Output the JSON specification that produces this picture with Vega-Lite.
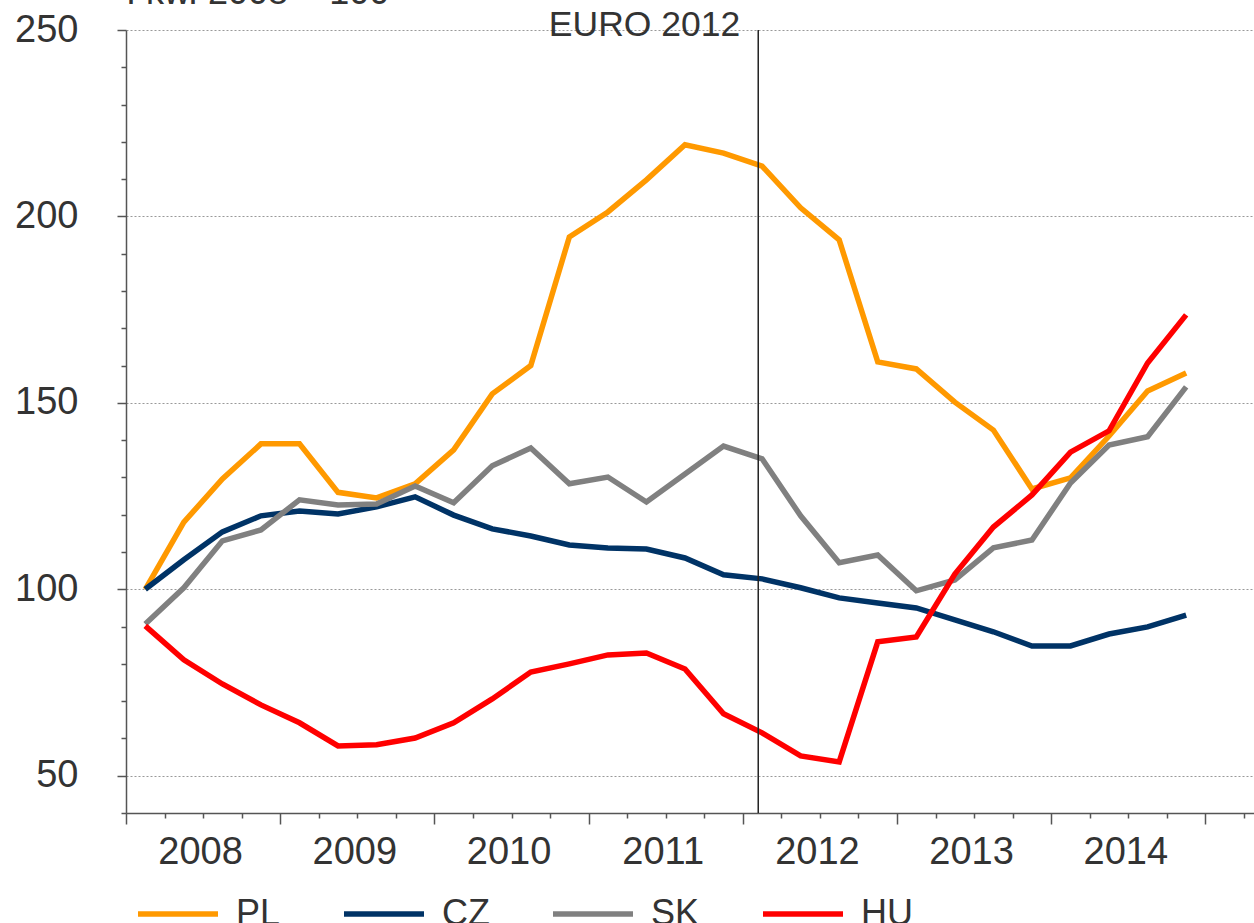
{
  "$schema": "https://vega.github.io/schema/vega-lite/v6.json",
  "width": 1128,
  "height": 783,
  "autosize": {"type": "none"},
  "padding": {"left": 126, "top": 30, "right": 0, "bottom": 110},
  "config": {
    "font": "Liberation Sans",
    "view": {"stroke": null},
    "axis": {"labelFont": "Liberation Sans", "labelColor": "#333333", "labelFontSize": 38, "domainColor": "#555555", "domainWidth": 1.5, "tickColor": "#555555", "tickWidth": 1.5, "title": null}
  },
  "datasets": {
    "series": [
      {"t": 2008.125, "c": "PL", "v": 100}, {"t": 2008.375, "c": "PL", "v": 118}, {"t": 2008.625, "c": "PL", "v": 129.6}, {"t": 2008.875, "c": "PL", "v": 139},
      {"t": 2009.125, "c": "PL", "v": 139}, {"t": 2009.375, "c": "PL", "v": 126}, {"t": 2009.625, "c": "PL", "v": 124.5}, {"t": 2009.875, "c": "PL", "v": 128.3},
      {"t": 2010.125, "c": "PL", "v": 137.4}, {"t": 2010.375, "c": "PL", "v": 152.4}, {"t": 2010.625, "c": "PL", "v": 160}, {"t": 2010.875, "c": "PL", "v": 194.5},
      {"t": 2011.125, "c": "PL", "v": 201.2}, {"t": 2011.375, "c": "PL", "v": 209.8}, {"t": 2011.625, "c": "PL", "v": 219.2}, {"t": 2011.875, "c": "PL", "v": 217},
      {"t": 2012.125, "c": "PL", "v": 213.5}, {"t": 2012.375, "c": "PL", "v": 202.3}, {"t": 2012.625, "c": "PL", "v": 193.7}, {"t": 2012.875, "c": "PL", "v": 161},
      {"t": 2013.125, "c": "PL", "v": 159.1}, {"t": 2013.375, "c": "PL", "v": 150.2}, {"t": 2013.625, "c": "PL", "v": 142.7}, {"t": 2013.875, "c": "PL", "v": 126.9},
      {"t": 2014.125, "c": "PL", "v": 129.9}, {"t": 2014.375, "c": "PL", "v": 141.1}, {"t": 2014.625, "c": "PL", "v": 153.2}, {"t": 2014.875, "c": "PL", "v": 158},
      {"t": 2008.125, "c": "CZ", "v": 100}, {"t": 2008.375, "c": "CZ", "v": 107.9}, {"t": 2008.625, "c": "CZ", "v": 115.4}, {"t": 2008.875, "c": "CZ", "v": 119.7},
      {"t": 2009.125, "c": "CZ", "v": 121}, {"t": 2009.375, "c": "CZ", "v": 120.2}, {"t": 2009.625, "c": "CZ", "v": 122.1}, {"t": 2009.875, "c": "CZ", "v": 124.8},
      {"t": 2010.125, "c": "CZ", "v": 119.9}, {"t": 2010.375, "c": "CZ", "v": 116.2}, {"t": 2010.625, "c": "CZ", "v": 114.3}, {"t": 2010.875, "c": "CZ", "v": 111.9},
      {"t": 2011.125, "c": "CZ", "v": 111.1}, {"t": 2011.375, "c": "CZ", "v": 110.8}, {"t": 2011.625, "c": "CZ", "v": 108.4}, {"t": 2011.875, "c": "CZ", "v": 103.9},
      {"t": 2012.125, "c": "CZ", "v": 102.8}, {"t": 2012.375, "c": "CZ", "v": 100.4}, {"t": 2012.625, "c": "CZ", "v": 97.7}, {"t": 2012.875, "c": "CZ", "v": 96.3},
      {"t": 2013.125, "c": "CZ", "v": 95}, {"t": 2013.375, "c": "CZ", "v": 91.8}, {"t": 2013.625, "c": "CZ", "v": 88.6}, {"t": 2013.875, "c": "CZ", "v": 84.8},
      {"t": 2014.125, "c": "CZ", "v": 84.8}, {"t": 2014.375, "c": "CZ", "v": 88}, {"t": 2014.625, "c": "CZ", "v": 89.9}, {"t": 2014.875, "c": "CZ", "v": 93.1},
      {"t": 2008.125, "c": "SK", "v": 90.7}, {"t": 2008.375, "c": "SK", "v": 100.4}, {"t": 2008.625, "c": "SK", "v": 113}, {"t": 2008.875, "c": "SK", "v": 115.9},
      {"t": 2009.125, "c": "SK", "v": 124}, {"t": 2009.375, "c": "SK", "v": 122.6}, {"t": 2009.625, "c": "SK", "v": 122.9}, {"t": 2009.875, "c": "SK", "v": 127.7},
      {"t": 2010.125, "c": "SK", "v": 123.2}, {"t": 2010.375, "c": "SK", "v": 133.1}, {"t": 2010.625, "c": "SK", "v": 137.9}, {"t": 2010.875, "c": "SK", "v": 128.3},
      {"t": 2011.125, "c": "SK", "v": 130.1}, {"t": 2011.375, "c": "SK", "v": 123.4}, {"t": 2011.625, "c": "SK", "v": 130.9}, {"t": 2011.875, "c": "SK", "v": 138.4},
      {"t": 2012.125, "c": "SK", "v": 135}, {"t": 2012.375, "c": "SK", "v": 119.7}, {"t": 2012.625, "c": "SK", "v": 107.1}, {"t": 2012.875, "c": "SK", "v": 109.2},
      {"t": 2013.125, "c": "SK", "v": 99.6}, {"t": 2013.375, "c": "SK", "v": 102.5}, {"t": 2013.625, "c": "SK", "v": 111.1}, {"t": 2013.875, "c": "SK", "v": 113.2},
      {"t": 2014.125, "c": "SK", "v": 128.5}, {"t": 2014.375, "c": "SK", "v": 138.7}, {"t": 2014.625, "c": "SK", "v": 140.9}, {"t": 2014.875, "c": "SK", "v": 154.3},
      {"t": 2008.125, "c": "HU", "v": 90.2}, {"t": 2008.375, "c": "HU", "v": 81.1}, {"t": 2008.625, "c": "HU", "v": 74.6}, {"t": 2008.875, "c": "HU", "v": 69},
      {"t": 2009.125, "c": "HU", "v": 64.2}, {"t": 2009.375, "c": "HU", "v": 58}, {"t": 2009.625, "c": "HU", "v": 58.3}, {"t": 2009.875, "c": "HU", "v": 60.1},
      {"t": 2010.125, "c": "HU", "v": 64.2}, {"t": 2010.375, "c": "HU", "v": 70.6}, {"t": 2010.625, "c": "HU", "v": 77.8}, {"t": 2010.875, "c": "HU", "v": 80},
      {"t": 2011.125, "c": "HU", "v": 82.4}, {"t": 2011.375, "c": "HU", "v": 82.9}, {"t": 2011.625, "c": "HU", "v": 78.6}, {"t": 2011.875, "c": "HU", "v": 66.6},
      {"t": 2012.125, "c": "HU", "v": 61.5}, {"t": 2012.375, "c": "HU", "v": 55.3}, {"t": 2012.625, "c": "HU", "v": 53.7}, {"t": 2012.875, "c": "HU", "v": 85.9},
      {"t": 2013.125, "c": "HU", "v": 87.2}, {"t": 2013.375, "c": "HU", "v": 104.1}, {"t": 2013.625, "c": "HU", "v": 116.7}, {"t": 2013.875, "c": "HU", "v": 125.3},
      {"t": 2014.125, "c": "HU", "v": 136.8}, {"t": 2014.375, "c": "HU", "v": 142.5}, {"t": 2014.625, "c": "HU", "v": 160.7}, {"t": 2014.875, "c": "HU", "v": 173.6}
    ],
    "marker": [{"t": 2012.1, "v": 250, "label": "EURO 2012"}],
    "note": [{"t": 2008, "v": 250, "label": "I kw. 2008 = 100"}]
  },
  "layer": [
    {
      "data": {"name": "series"},
      "mark": {"type": "line", "strokeJoin": "miter", "clip": false},
      "encoding": {
        "x": {
          "field": "t", "type": "quantitative",
          "scale": {"domain": [2008, 2015.315], "nice": false, "zero": false},
          "axis": {
            "values": [2008, 2008.25, 2008.5, 2008.75, 2009, 2009.25, 2009.5, 2009.75, 2010, 2010.25, 2010.5, 2010.75, 2011, 2011.25, 2011.5, 2011.75, 2012, 2012.25, 2012.5, 2012.75, 2013, 2013.25, 2013.5, 2013.75, 2014, 2014.25, 2014.5, 2014.75, 2015, 2015.25],
            "tickCount": 200,
            "labelExpr": "datum.value % 1 == 0.5 ? '' + floor(datum.value) : ''",
            "labelOverlap": false,
            "labelFlush": false,
            "grid": false,
            "tickSize": {"condition": {"test": "datum.value % 1 == 0", "value": 11}, "value": 5},
            "labelPadding": 15,
            "labelOffset": -3
          }
        },
        "y": {
          "field": "v", "type": "quantitative",
          "scale": {"domain": [40, 250], "nice": false, "zero": false},
          "axis": {
            "values": [40, 50, 60, 70, 80, 90, 100, 110, 120, 130, 140, 150, 160, 170, 180, 190, 200, 210, 220, 230, 240, 250],
            "tickCount": 200,
            "labelExpr": "datum.value % 50 == 0 ? '' + datum.value : ''",
            "labelOverlap": false,
            "labelFlush": false,
            "grid": true,
            "gridColor": "#999999",
            "gridDash": [2, 2],
            "gridWidth": 1,
            "gridOpacity": {"condition": {"test": "datum.value % 50 == 0", "value": 1}, "value": 0},
            "tickSize": {"condition": {"test": "datum.value % 50 == 0", "value": 9}, "value": 5},
            "labelPadding": 39
          }
        },
        "color": {
          "field": "c", "type": "nominal",
          "scale": {"domain": ["PL", "CZ", "SK", "HU"], "range": ["#FF9900", "#003366", "#808080", "#FF0000"]},
          "legend": {
            "title": null,
            "orient": "none",
            "legendX": 9,
            "legendY": 841,
            "direction": "horizontal",
            "columns": 4,
            "columnPadding": 52,
            "symbolType": "stroke",
            "symbolSize": 6400,
            "symbolStrokeWidth": 6,
            "labelFontSize": 36,
            "labelFont": "Liberation Sans",
            "labelColor": "#333333",
            "labelOffset": 15,
            "padding": 0,
            "encode": {"symbols": {"update": {"strokeWidth": [{"test": "datum.value === 'HU'", "value": 4}, {"value": 6}]}}}
          }
        },
        "strokeWidth": {
          "field": "c", "type": "nominal",
          "scale": {"domain": ["PL", "CZ", "SK", "HU"], "range": [5.5, 5.5, 5.5, 3.8]},
          "legend": null
        }
      }
    },
    {
      "data": {"name": "marker"},
      "mark": {"type": "rule", "color": "#222222", "strokeWidth": 1.5},
      "encoding": {"x": {"field": "t", "type": "quantitative"}}
    },
    {
      "data": {"name": "marker"},
      "mark": {"type": "text", "align": "right", "baseline": "alphabetic", "dx": -18, "dy": 6, "fontSize": 35.5, "color": "#333333", "font": "Liberation Sans"},
      "encoding": {
        "x": {"field": "t", "type": "quantitative"},
        "y": {"field": "v", "type": "quantitative"},
        "text": {"field": "label"}
      }
    },
    {
      "data": {"name": "note"},
      "mark": {"type": "text", "align": "left", "baseline": "alphabetic", "dx": 0, "dy": -26, "fontSize": 36, "color": "#333333", "font": "Liberation Sans"},
      "encoding": {
        "x": {"field": "t", "type": "quantitative"},
        "y": {"field": "v", "type": "quantitative"},
        "text": {"field": "label"}
      }
    }
  ]
}
